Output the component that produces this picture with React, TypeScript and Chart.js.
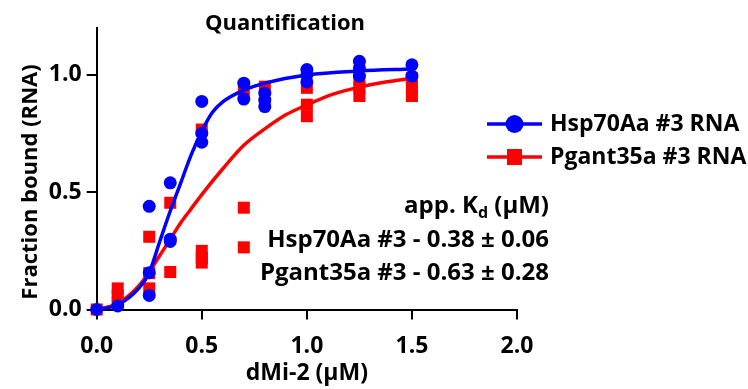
import React, { useEffect, useRef } from "react";
import { Chart, registerables } from "chart.js";

Chart.register(...registerables);

// ---- data ----
const xTicks = [0, 0.5, 1.0, 1.5, 2.0];
const yTicks = [0, 0.5, 1.0];

const hspX = [0, 0.1, 0.25, 0.25, 0.25, 0.35, 0.35, 0.35, 0.5, 0.5, 0.5, 0.7, 0.7, 0.8, 0.8, 0.8, 1.0, 1.0, 1.0, 1.25, 1.25, 1.25, 1.5, 1.5];
const hspY = [0, 0.015, 0.44, 0.157, 0.06, 0.54, 0.30, 0.29, 0.887, 0.751, 0.713, 0.965, 0.897, 0.922, 0.893, 0.865, 1.023, 1.0, 0.97, 1.058, 1.03, 0.995, 1.043, 0.995];

const pgX = [0, 0.1, 0.1, 0.1, 0.25, 0.25, 0.25, 0.35, 0.35, 0.5, 0.5, 0.5, 0.5, 0.7, 0.7, 0.7, 0.8, 0.8, 1.0, 1.0, 1.0, 1.25, 1.25, 1.25, 1.5, 1.5, 1.5];
const pgY = [0, 0.09, 0.06, 0.03, 0.31, 0.155, 0.09, 0.455, 0.16, 0.767, 0.25, 0.22, 0.20, 0.93, 0.434, 0.265, 0.95, 0.88, 0.945, 0.873, 0.824, 0.98, 0.945, 0.91, 0.986, 0.95, 0.91];

// fitted curves
const hspFitX = [0, 0.1, 0.2, 0.25, 0.3, 0.35, 0.4, 0.45, 0.5, 0.55, 0.6, 0.7, 0.8, 1.0, 1.25, 1.5];
const hspFitY = [0, 0.02, 0.09, 0.157, 0.29, 0.42, 0.54, 0.66, 0.76, 0.84, 0.885, 0.935, 0.965, 1.0, 1.017, 1.025];

const pgFitX = [0, 0.1, 0.2, 0.25, 0.3, 0.35, 0.4, 0.45, 0.5, 0.6, 0.7, 0.8, 0.9, 1.0, 1.125, 1.25, 1.375, 1.5];
const pgFitY = [0, 0.025, 0.10, 0.16, 0.23, 0.30, 0.37, 0.43, 0.49, 0.60, 0.70, 0.77, 0.83, 0.872, 0.918, 0.948, 0.97, 0.986];

const seriesNames = ["Hsp70Aa #3 RNA", "Pgant35a #3 RNA"];
const kdHeader = ["app. K", "d", " (\u03bcM)"];
const kdLines = ["Hsp70Aa #3 - 0.38 \u00b1 0.06", "Pgant35a #3 - 0.63 \u00b1 0.28"];
const titleText = "Quantification";
const xTitle = "dMi-2 (\u03bcM)";
const yTitle = "Fraction bound (RNA)";

const BLUE = "#0000ff";
const RED = "#ff0000";
const FONT = "'Open Sans', Lato, sans-serif";

const pairs = (xs: number[], ys: number[]) => xs.map((x, i) => ({ x, y: ys[i] }));

const overlayPlugin = {
  id: "overlay",
  afterDraw(chart: any) {
    const ctx = chart.ctx as CanvasRenderingContext2D;
    ctx.save();
    ctx.fillStyle = "#000";
    // title
    ctx.font = `bold 22px ${FONT}`;
    ctx.textAlign = "center";
    ctx.textBaseline = "middle";
    ctx.fillText(titleText, 285, 24);

    // y axis title
    ctx.save();
    ctx.translate(31, 182);
    ctx.rotate(-Math.PI / 2);
    ctx.font = `bold 22px ${FONT}`;
    ctx.fillText(yTitle, 0, 0);
    ctx.restore();

    // legend
    const legendY = [124, 157];
    const colors = [BLUE, RED];
    legendY.forEach((y, i) => {
      ctx.strokeStyle = colors[i];
      ctx.lineWidth = 3.5;
      ctx.beginPath();
      ctx.moveTo(487, y);
      ctx.lineTo(542, y);
      ctx.stroke();
      ctx.fillStyle = colors[i];
      if (i === 0) {
        ctx.beginPath();
        ctx.arc(514.5, y, 9, 0, Math.PI * 2);
        ctx.fill();
      } else {
        ctx.fillRect(507, y - 8, 15, 16);
      }
      ctx.fillStyle = "#000";
      ctx.font = `bold 23px ${FONT}`;
      ctx.textAlign = "left";
      ctx.textBaseline = "middle";
      ctx.fillText(seriesNames[i], 550, y);
    });

    // Kd annotation (right aligned)
    const right = 549;
    const big = `bold 24px ${FONT}`;
    const small = `bold 16px ${FONT}`;
    ctx.font = big;
    ctx.textBaseline = "middle";
    ctx.textAlign = "left";
    const w0 = ctx.measureText(kdHeader[0]).width;
    const w2 = ctx.measureText(kdHeader[2]).width;
    ctx.font = small;
    const w1 = ctx.measureText(kdHeader[1]).width;
    let x = right - w0 - w1 - w2;
    const hy = 206;
    ctx.font = big;
    ctx.fillText(kdHeader[0], x, hy);
    x += w0;
    ctx.font = small;
    ctx.fillText(kdHeader[1], x, hy + 7);
    x += w1;
    ctx.font = big;
    ctx.fillText(kdHeader[2], x, hy);
    ctx.textAlign = "right";
    ctx.fillText(kdLines[0], right, 240);
    ctx.fillText(kdLines[1], right, 273);
    ctx.restore();
  },
};

export default function App() {
  const ref = useRef<HTMLCanvasElement | null>(null);
  useEffect(() => {
    document.body.style.margin = "0";
    const canvas = ref.current!;
    const chart = new Chart(canvas, {
      type: "scatter",
      data: {
        datasets: [
          {
            label: seriesNames[0] + " fit",
            data: pairs(hspFitX, hspFitY),
            showLine: true,
            borderColor: BLUE,
            borderWidth: 3.5,
            pointRadius: 0,
            cubicInterpolationMode: "monotone",
            order: 0,
            clip: false,
          } as any,
          {
            label: seriesNames[0],
            data: pairs(hspX, hspY),
            showLine: false,
            pointStyle: "circle",
            pointRadius: 6.5,
            backgroundColor: BLUE,
            borderWidth: 0,
            order: 1,
            clip: false,
          },
          {
            label: seriesNames[1] + " fit",
            data: pairs(pgFitX, pgFitY),
            showLine: true,
            borderColor: RED,
            borderWidth: 3.5,
            pointRadius: 0,
            cubicInterpolationMode: "monotone",
            order: 2,
            clip: false,
          } as any,
          {
            label: seriesNames[1],
            data: pairs(pgX, pgY),
            showLine: false,
            pointStyle: "rect",
            pointRadius: 8.5,
            backgroundColor: RED,
            borderWidth: 0,
            order: 3,
            clip: false,
          },
        ],
      },
      options: {
        animation: false,
        responsive: true,
        maintainAspectRatio: false,
        layout: { padding: { left: 0, top: 28, right: 231, bottom: 0 } },
        plugins: { legend: { display: false }, tooltip: { enabled: false }, title: { display: false } },
        scales: {
          x: {
            type: "linear",
            min: 0,
            max: 2,
            afterBuildTicks: (s: any) => {
              s.ticks = xTicks.map((v) => ({ value: v }));
            },
            afterFit: (s: any) => {
              s.height = 79.5;
            },
            ticks: {
              color: "#000",
              font: { family: FONT, size: 23, weight: "bold" },
              padding: 13,
              maxRotation: 0,
              callback: (v: any) => Number(v).toFixed(1),
            },
            grid: { display: true, drawOnChartArea: false, drawTicks: true, tickLength: 10, color: "#000", lineWidth: 2 },
            border: { display: true, color: "#000", width: 2 },
            title: {
              display: true,
              text: xTitle,
              color: "#000",
              font: { family: FONT, size: 23, weight: "bold" },
              padding: { top: 0, bottom: 2 },
            },
          },
          y: {
            type: "linear",
            min: 0,
            max: 1.2,
            afterBuildTicks: (s: any) => {
              s.ticks = yTicks.map((v) => ({ value: v }));
            },
            afterFit: (s: any) => {
              s.width = 96.7;
            },
            ticks: {
              color: "#000",
              font: { family: FONT, size: 23, weight: "bold" },
              padding: 5,
              callback: (v: any) => Number(v).toFixed(1),
            },
            grid: { display: true, drawOnChartArea: false, drawTicks: true, tickLength: 10, color: "#000", lineWidth: 2 },
            border: { display: true, color: "#000", width: 2 },
            title: { display: false },
          },
        },
      },
      plugins: [overlayPlugin],
    });
    return () => chart.destroy();
  }, []);
  return (
    <div style={{ position: "relative", width: 748, height: 389 }}>
      <canvas ref={ref} />
    </div>
  );
}
